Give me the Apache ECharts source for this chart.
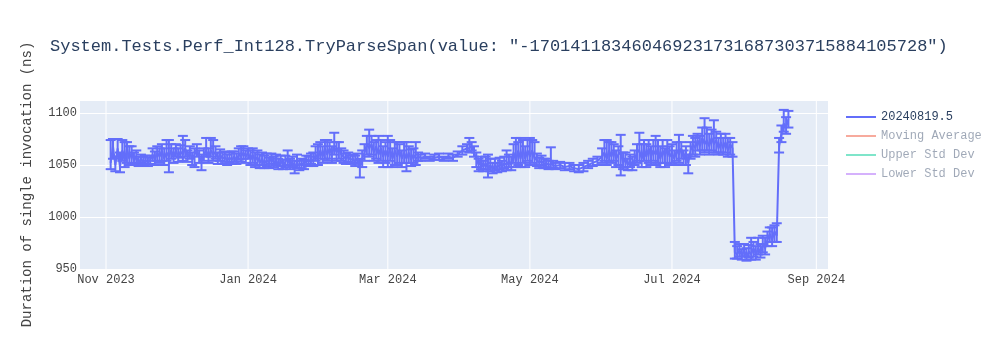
<!DOCTYPE html>
<html><head><meta charset="utf-8">
<script src="https://cdn.jsdelivr.net/npm/echarts@6/dist/echarts.min.js"></script>
<style>html,body{margin:0;padding:0;background:#fff}#c{width:1000px;height:350px}</style>
</head><body><div id="c"></div>
<script>
const dates = [
 // Nov 3-30
 '2023-11-03','2023-11-04','2023-11-05','2023-11-06','2023-11-07','2023-11-08','2023-11-09','2023-11-10','2023-11-11','2023-11-12',
 '2023-11-13','2023-11-14','2023-11-15','2023-11-16','2023-11-17','2023-11-18','2023-11-19','2023-11-20','2023-11-21','2023-11-22',
 '2023-11-23','2023-11-24','2023-11-25','2023-11-26','2023-11-27','2023-11-28','2023-11-29','2023-11-30',
 // Dec
 '2023-12-01','2023-12-02','2023-12-03','2023-12-04','2023-12-05','2023-12-06','2023-12-07','2023-12-08','2023-12-09','2023-12-10',
 '2023-12-11','2023-12-12','2023-12-13','2023-12-14','2023-12-15','2023-12-16','2023-12-17','2023-12-18','2023-12-19','2023-12-20',
 '2023-12-21','2023-12-22','2023-12-23','2023-12-24','2023-12-25','2023-12-26','2023-12-27','2023-12-28','2023-12-29','2023-12-30','2023-12-31',
 // Jan
 '2024-01-01','2024-01-02','2024-01-03','2024-01-04','2024-01-05','2024-01-06','2024-01-07','2024-01-08','2024-01-09','2024-01-10',
 '2024-01-11','2024-01-12','2024-01-13','2024-01-14','2024-01-15','2024-01-16','2024-01-17','2024-01-18','2024-01-19','2024-01-20',
 '2024-01-21','2024-01-22','2024-01-23','2024-01-24','2024-01-25','2024-01-26','2024-01-27','2024-01-28','2024-01-29','2024-01-30','2024-01-31',
 // Feb
 '2024-02-01','2024-02-02','2024-02-03','2024-02-04','2024-02-05','2024-02-06','2024-02-07','2024-02-08','2024-02-09','2024-02-10',
 '2024-02-11','2024-02-12','2024-02-13','2024-02-14','2024-02-15','2024-02-16','2024-02-17','2024-02-18','2024-02-19','2024-02-20',
 '2024-02-21','2024-02-22','2024-02-23','2024-02-24','2024-02-25','2024-02-26','2024-02-27','2024-02-28','2024-02-29',
 // Mar 1-14
 '2024-03-01','2024-03-02','2024-03-03','2024-03-04','2024-03-05','2024-03-06','2024-03-07','2024-03-08','2024-03-09','2024-03-10',
 '2024-03-11','2024-03-12','2024-03-13','2024-03-14',
 // Mar 15 - Apr 4
 '2024-03-15','2024-03-17','2024-03-19','2024-03-21','2024-03-23','2024-03-25','2024-03-27','2024-03-29','2024-03-31','2024-04-02','2024-04-04',
 // Apr 5-30
 '2024-04-05','2024-04-06','2024-04-07','2024-04-08','2024-04-09','2024-04-10','2024-04-11','2024-04-12','2024-04-13','2024-04-14',
 '2024-04-15','2024-04-16','2024-04-17','2024-04-18','2024-04-19','2024-04-20','2024-04-21','2024-04-22','2024-04-23','2024-04-24',
 '2024-04-25','2024-04-26','2024-04-27','2024-04-28','2024-04-29','2024-04-30',
 // May 1-12
 '2024-05-01','2024-05-02','2024-05-03','2024-05-04','2024-05-05','2024-05-06','2024-05-07','2024-05-08','2024-05-09','2024-05-10',
 '2024-05-11','2024-05-12',
 // May 14-30
 '2024-05-14','2024-05-16','2024-05-18','2024-05-20','2024-05-22','2024-05-24','2024-05-26','2024-05-28','2024-05-30',
 // Jun
 '2024-06-01','2024-06-02','2024-06-03','2024-06-04','2024-06-05','2024-06-06','2024-06-07','2024-06-08','2024-06-09','2024-06-10',
 '2024-06-11','2024-06-12','2024-06-13','2024-06-14','2024-06-15','2024-06-16','2024-06-17','2024-06-18','2024-06-19','2024-06-20',
 '2024-06-21','2024-06-22','2024-06-23','2024-06-24','2024-06-25','2024-06-26','2024-06-27','2024-06-28','2024-06-29','2024-06-30',
 // Jul
 '2024-07-01','2024-07-02','2024-07-03','2024-07-04','2024-07-05','2024-07-06','2024-07-07','2024-07-08','2024-07-09','2024-07-10',
 '2024-07-11','2024-07-12','2024-07-13','2024-07-14','2024-07-15','2024-07-16','2024-07-17','2024-07-18','2024-07-19','2024-07-20',
 '2024-07-21','2024-07-22','2024-07-23','2024-07-24','2024-07-25','2024-07-26','2024-07-27','2024-07-28','2024-07-29','2024-07-30','2024-07-31',
 // Aug 1-20
 '2024-08-01','2024-08-02','2024-08-03','2024-08-04','2024-08-05','2024-08-06','2024-08-07','2024-08-08','2024-08-09','2024-08-10',
 '2024-08-11','2024-08-12','2024-08-13','2024-08-14','2024-08-15','2024-08-16','2024-08-17','2024-08-18','2024-08-19','2024-08-20'
];
const values = [
 1052,1068,1050,1066,1048,1064,1054,1066,1056,1062, 1054,1058,1052,1056,1053,1055,1052,1055,1060,1055, 1062,1058,1064,1056,1062,1058,1064,1058,
 1064,1058,1063,1060,1066,1058,1062,1056,1060,1064, 1058,1054,1060,1064,1058,1064,1060,1062,1056,1060, 1056,1058,1054,1057,1055,1058,1055,1060,1058,1062,1058,
 1062,1056,1060,1054,1058,1052,1056,1051,1055,1052, 1057,1052,1055,1050,1054,1050,1053,1056,1050,1053, 1048,1052,1049,1052,1050,1055,1053,1056,1054,1060,1056,
 1064,1058,1066,1060,1066,1060,1068,1062,1066,1060, 1058,1056,1058,1055,1056,1053,1056,1048,1056,1062, 1070,1066,1070,1062,1068,1060,1066,1058,1064,
 1058,1066,1056,1064,1058,1064,1056,1062,1056,1062, 1055,1060,1056,1058,
 1057,1058,1056,1057,1058,1056,1058,1057,1060,1064,1066,
 1066,1068,1062,1056,1050,1054,1048,1052,1046,1050, 1046,1050,1047,1051,1048,1052,1050,1054,1050,1062, 1054,1064,1056,1066,1056,1064,
 1058,1064,1056,1055,1052,1054,1051,1052,1050,1051, 1050,1049,
 1050,1048,1049,1047,1046,1048,1050,1052,1054,
 1058,1062,1056,1064,1058,1064,1056,1060,1062,1052, 1056,1050,1054,1050,1056,1062,1064,1056,1066,1058, 1066,1058,1064,1060,1066,1056,1064,1058,1066,1058,
 1062,1056,1064,1060,1066,1056,1062,1052,1064,1070, 1066,1074,1068,1076,1070,1074,1068,1076,1070,1074, 1066,1072,1066,1072,1064,1070,1066,966,964,968,963,
 968,962,967,964,970,964,970,966,974,970, 978,984,978,986,982,1068,1080,1090,1086,1094
];
const errUp = [
 22,7,8,9,14,10,18,6,12,6, 8,6,6,4,5,4,5,4,6,8, 6,8,6,10,12,16,6,8,
 6,8,6,18,8,6,6,6,6,6, 6,6,6,12,8,12,14,6,6,5, 6,5,6,5,8,5,6,6,10,6,6,
 4,8,6,8,6,8,6,8,6,5, 4,6,5,6,5,5,6,8,6,5, 6,8,5,4,5,4,5,5,8,8,14,
 8,10,8,14,6,8,13,10,6,6, 6,5,4,4,4,6,5,8,8,8, 8,18,8,10,6,18,8,10,8,
 20,8,10,8,14,6,8,10,16,6, 10,6,16,4,
 3,3,2,3,3,2,3,3,3,4,4,
 10,4,6,6,6,4,6,6,14,6, 6,6,5,6,6,6,14,6,8,8, 22,8,20,8,12,10,
 18,10,16,6,5,5,5,4,4,16, 4,3,
 3,4,3,3,4,4,4,4,4,
 8,12,18,8,14,6,8,8,17,10, 6,6,6,8,8,8,17,14,8,12, 8,10,10,18,8,12,10,8,8,10,
 8,8,8,19,6,8,6,8,8,8, 10,6,10,10,25,12,12,8,23,8, 10,8,10,8,12,6,6,10,8,6,6,
 6,8,6,16,6,8,10,8,8,10, 8,6,12,6,12,8,8,13,10,8
];
const errDown = [
 6,12,6,8,5,10,6,14,6,10, 4,6,3,4,3,4,3,4,6,5, 8,6,10,6,8,15,8,6,
 6,5,6,6,8,5,6,6,12,6, 6,9,6,6,6,6,6,6,5,6, 5,5,4,5,4,5,4,5,5,6,6,
 6,6,8,6,8,5,6,4,6,5, 6,4,5,4,5,4,5,6,4,5, 6,5,4,5,4,5,4,5,5,6,6,
 8,6,10,6,10,8,8,8,10,6, 6,5,5,4,4,4,5,10,8,8, 10,8,10,8,12,8,12,10,12,
 10,12,8,14,8,12,8,10,12,10, 6,8,6,4,
 3,2,2,2,3,2,2,3,2,4,3,
 4,4,4,8,6,8,4,6,8,6, 4,5,4,5,4,5,5,6,5,10, 6,14,8,14,8,10,
 8,12,6,6,5,4,4,4,4,4, 3,3,
 3,3,3,3,3,4,3,3,4,
 6,8,6,10,6,10,8,10,22,6, 8,5,6,5,6,10,10,8,12,10, 14,8,10,10,14,8,12,10,14,8,
 10,6,10,8,10,6,12,10,8,10, 8,10,8,12,8,10,8,12,8,12, 6,10,6,10,6,10,8,6,4,6,4,
 6,4,6,5,8,5,6,5,8,6, 6,8,6,10,6,6,8,8,6,8
];
const xTickDates = ['2023-11-01','2024-01-01','2024-03-01','2024-05-01','2024-07-01','2024-09-01'];
const xTickLabels = ['Nov 2023','Jan 2024','Mar 2024','May 2024','Jul 2024','Sep 2024'];
const seriesName = '20240819.5';
const hiddenNames = ['Moving Average','Upper Std Dev','Lower Std Dev'];
const hiddenColors = ['rgba(239,85,59,0.5)','rgba(0,204,150,0.5)','rgba(171,99,250,0.5)'];
const titleText = 'System.Tests.Perf_Int128.TryParseSpan(value: "-170141183460469231731687303715884105728")';
const yTitle = 'Duration of single invocation (ns)';

const FONT = "'Liberation Mono', 'Courier New', monospace";
const BLUE = '#636efa';

const lineData = dates.map((d, i) => [d, values[i]]);
const errData = dates.map((d, i) => [d, values[i] - errDown[i], values[i] + errUp[i]]);
const tickData = xTickDates.map(d => [d, 1000]);

const chart = echarts.init(document.getElementById('c'), null, {renderer: 'canvas'});
chart.setOption({
  animation: false,
  backgroundColor: '#fff',
  title: {
    text: titleText, left: 45, top: 33,
    textStyle: {fontFamily: FONT, fontSize: 17, fontWeight: 'normal', color: '#2a3f5f'}
  },
  grid: {left: 80, right: 172, top: 100, bottom: 81, show: true, backgroundColor: '#e5ecf6', borderWidth: 0},
  legend: {
    orient: 'vertical', left: 841, top: 105, itemGap: 5,
    icon: 'rect', itemWidth: 30, itemHeight: 2,
    textStyle: {fontFamily: FONT, fontSize: 12, lineHeight: 14, color: '#2a3f5f'},
    data: [{name: seriesName, itemStyle: {color: BLUE}, textStyle: {color: '#2a3f5f'}}]
      .concat(hiddenNames.map((n, i) => ({name: n, itemStyle: {color: hiddenColors[i]}, textStyle: {color: 'rgba(42,63,95,0.45)'}})))
  },
  xAxis: {
    type: 'time', min: '2023-10-20T20:00:00', max: '2024-09-06T00:00:00',
    axisLine: {show: false}, axisTick: {show: false}, axisLabel: {show: false}, splitLine: {show: false}
  },
  yAxis: {
    type: 'value', min: 950, max: 1112.5, interval: 50,
    name: yTitle, nameLocation: 'middle', nameRotate: 90, nameGap: 46,
    nameTextStyle: {fontFamily: FONT, fontSize: 14, color: '#444'},
    axisLine: {show: false}, axisTick: {show: false},
    axisLabel: {fontFamily: FONT, fontSize: 12, color: '#444', margin: 3,
      formatter: v => (v % 50 === 0 ? String(v) : '')},
    splitLine: {lineStyle: {color: '#fff', width: 1}}
  },
  series: [
    {
      type: 'custom', z: 1, silent: true, clip: false,
      data: tickData, encode: {x: 0, y: 1},
      renderItem: (params, api) => {
        const cs = params.coordSys;
        const p = api.coord([api.value(0), 1000]);
        return {type: 'group', children: [
          {type: 'line', shape: {x1: p[0], y1: cs.y, x2: p[0], y2: cs.y + cs.height}, style: {stroke: '#fff', lineWidth: 1}},
          {type: 'text', x: p[0], y: cs.y + cs.height + 5,
            style: {text: xTickLabels[params.dataIndex], fill: '#444', font: '12px ' + FONT, align: 'center', verticalAlign: 'top'}}
        ]};
      }
    },
    {
      type: 'custom', z: 3, silent: true,
      data: errData, encode: {x: 0, y: [1, 2]},
      renderItem: (params, api) => {
        const lo = api.coord([api.value(0), api.value(1)]);
        const hi = api.coord([api.value(0), api.value(2)]);
        const w = 5;
        const st = {stroke: BLUE, lineWidth: 2};
        return {type: 'group', children: [
          {type: 'line', shape: {x1: lo[0], y1: lo[1], x2: hi[0], y2: hi[1]}, style: st},
          {type: 'line', shape: {x1: lo[0] - w, y1: lo[1], x2: lo[0] + w, y2: lo[1]}, style: st},
          {type: 'line', shape: {x1: hi[0] - w, y1: hi[1], x2: hi[0] + w, y2: hi[1]}, style: st}
        ]};
      }
    },
    {
      name: seriesName, type: 'line', z: 4, data: lineData, showSymbol: false,
      lineStyle: {color: BLUE, width: 2}, itemStyle: {color: BLUE}
    }
  ].concat(hiddenNames.map((n, i) => ({name: n, type: 'line', data: [], itemStyle: {color: hiddenColors[i]}})))
});
</script>
</body></html>
